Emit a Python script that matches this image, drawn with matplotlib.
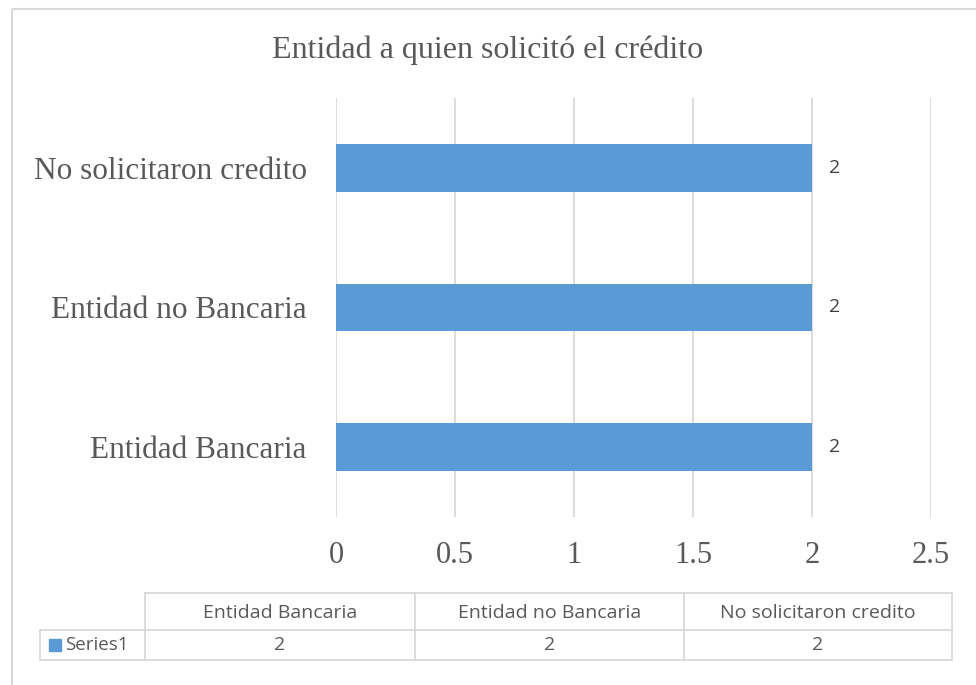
import matplotlib.pyplot as plt
from matplotlib.patches import Rectangle

categories = ['Entidad Bancaria', 'Entidad no Bancaria', 'No solicitaron credito']
values = [2, 2, 2]
series_name = 'Series1'
title = 'Entidad a quien solicitó el crédito'
xticks = [0, 0.5, 1, 1.5, 2, 2.5]

W, H = 976, 685
bar_color = '#5B9BD5'
grid_color = '#D9D9D9'
text_color = '#595959'

fig = plt.figure(figsize=(W / 100, H / 100), dpi=100)

# overlay axes in pixel coordinates for border and table
bg = fig.add_axes([0, 0, 1, 1])
bg.set_xlim(0, W)
bg.set_ylim(H, 0)
bg.axis('off')
bg.add_patch(Rectangle((12, 9), W + 10, H + 10, fill=False, ec=grid_color, lw=1.5))

# main plot area: x 336..931, y 98..517
x0, x1, y0, y1 = 336, 931, 98, 517
ax = fig.add_axes([x0 / W, 1 - y1 / H, (x1 - x0) / W, (y1 - y0) / H])
ypos = list(range(len(categories)))
ax.barh(ypos, values, height=0.34, color=bar_color, zorder=3)
ax.set_xlim(0, 2.5)
ax.set_ylim(-0.5, len(categories) - 0.5)
ax.set_xticks(xticks)
ax.set_xticklabels([f'{t:g}' for t in xticks], family='Liberation Serif',
                   fontsize=22, color=text_color)
ax.set_yticks(ypos)
ax.set_yticklabels(categories, family='Liberation Serif', fontsize=22.5, color=text_color)
ax.tick_params(length=0, pad=17, axis='x')
ax.tick_params(length=0, pad=21, axis='y')
ax.grid(axis='x', color=grid_color, lw=1.3, zorder=0)
for s in ax.spines.values():
    s.set_visible(False)
for y, v in zip(ypos, values):
    ax.text(v + 0.07, y, f'{v:g}', va='center', ha='left', fontsize=14,
            family='Open Sans', color='#404040')

fig.text(0.5, 1 - 50 / H, title, ha='center', va='center',
         family='Liberation Serif', fontsize=23, color=text_color)

# data table under the axis
col_edges = [145, 415, 684, 952]
label_left = 40
r0, r1, r2 = 593, 630, 660
tkw = dict(color=grid_color, lw=1.3)
bg.plot([col_edges[0], col_edges[-1]], [r0, r0], **tkw)
bg.plot([label_left, col_edges[-1]], [r1, r1], **tkw)
bg.plot([label_left, col_edges[-1]], [r2, r2], **tkw)
bg.plot([label_left, label_left], [r1, r2], **tkw)
for e in col_edges:
    bg.plot([e, e], [r0, r2], **tkw)
for i, (c, v) in enumerate(zip(categories, values)):
    cx = (col_edges[i] + col_edges[i + 1]) / 2
    bg.text(cx, (r0 + r1) / 2 + 1, c, ha='center', va='center', fontsize=14,
            family='Open Sans', color=text_color)
    bg.text(cx, (r1 + r2) / 2, f'{v:g}', ha='center', va='center', fontsize=14,
            family='Open Sans', color=text_color)
bg.add_patch(Rectangle((49, 639), 12, 12, color=bar_color))
bg.text(65, (r1 + r2) / 2, series_name, ha='left', va='center', fontsize=13.5,
        family='Open Sans', color=text_color)

fig.savefig('out.png', dpi=100)
